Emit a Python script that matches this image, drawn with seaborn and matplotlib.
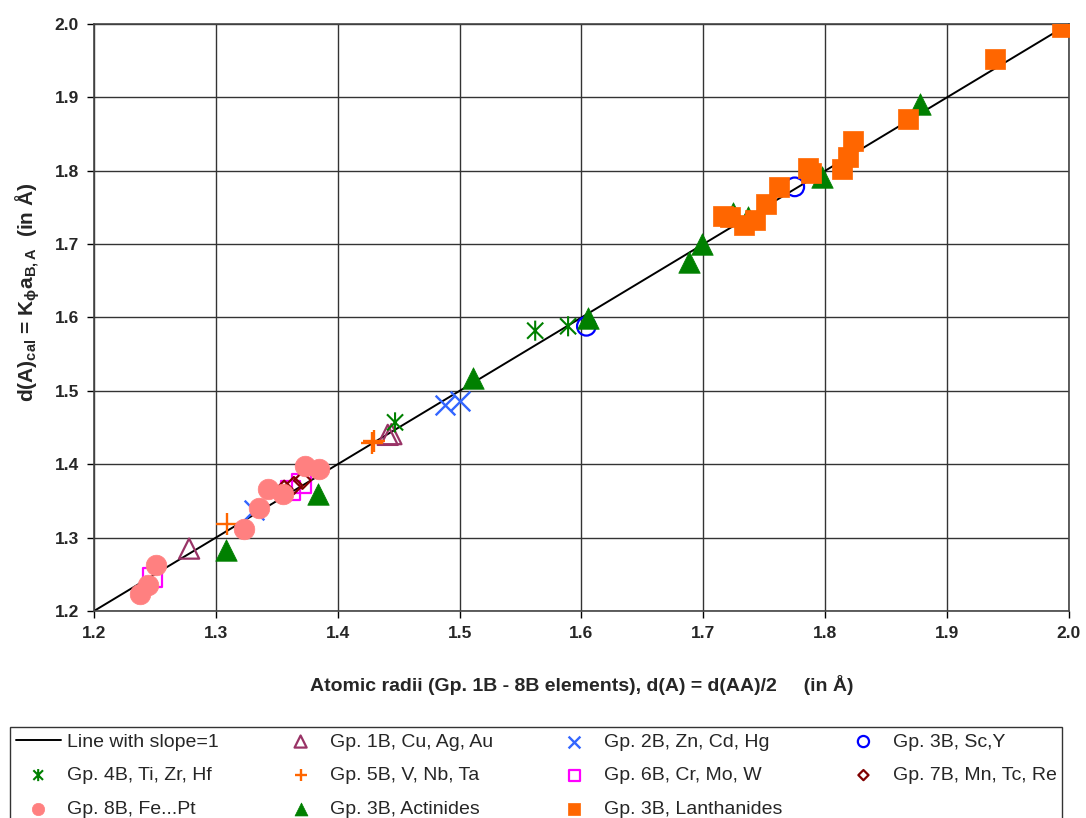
import matplotlib
matplotlib.use("Agg")
import matplotlib.pyplot as plt
import seaborn as sns
from matplotlib.path import Path

# data
line_x = [1.2, 2.0]
line_y = [1.2, 2.0]

gp1b_x = [1.278, 1.441, 1.444]
gp1b_y = [1.285, 1.440, 1.441]

gp2b_x = [1.331, 1.488, 1.500]
gp2b_y = [1.338, 1.481, 1.486]

gp3b_x = [1.604, 1.775]
gp3b_y = [1.588, 1.778]

gp4b_x = [1.447, 1.562, 1.589]
gp4b_y = [1.457, 1.582, 1.588]

gp5b_x = [1.309, 1.428, 1.430]
gp5b_y = [1.318, 1.429, 1.431]

gp6b_x = [1.248, 1.361, 1.370]
gp6b_y = [1.246, 1.364, 1.374]

gp7b_x = [1.356, 1.364, 1.371]
gp7b_y = [1.366, 1.371, 1.378]

gp8b_x = [1.238, 1.244, 1.251, 1.323, 1.335, 1.343, 1.355, 1.373, 1.385]
gp8b_y = [1.223, 1.235, 1.263, 1.312, 1.341, 1.366, 1.360, 1.398, 1.393]

act_x = [1.308, 1.384, 1.511, 1.605, 1.688, 1.699, 1.724, 1.737, 1.797, 1.878]
act_y = [1.283, 1.360, 1.518, 1.599, 1.676, 1.700, 1.742, 1.737, 1.792, 1.891]

lan_x = [1.716, 1.722, 1.733, 1.742, 1.751, 1.762, 1.786, 1.788, 1.814, 1.819, 1.823, 1.868, 1.939, 1.994]
lan_y = [1.738, 1.737, 1.726, 1.733, 1.755, 1.778, 1.804, 1.797, 1.802, 1.819, 1.840, 1.870, 1.952, 1.996]

ticks = [1.2, 1.3, 1.4, 1.5, 1.6, 1.7, 1.8, 1.9, 2.0]

sns.set_theme(style="white")
plt.rcParams["font.family"] = ["Liberation Sans", "DejaVu Sans"]
plt.rcParams["mathtext.fontset"] = "custom"
plt.rcParams["mathtext.rm"] = "Liberation Sans:bold"
plt.rcParams["mathtext.it"] = "Liberation Sans:bold"
plt.rcParams["mathtext.bf"] = "Liberation Sans:bold"

# Excel style asterisk: X plus a vertical bar
asterisk = Path(
    [(0, -1), (0, 1), (-0.8, -0.8), (0.8, 0.8), (-0.8, 0.8), (0.8, -0.8)],
    [Path.MOVETO, Path.LINETO, Path.MOVETO, Path.LINETO, Path.MOVETO, Path.LINETO],
)

fig = plt.figure(figsize=(10.86, 8.18), dpi=100)
ax = fig.add_axes([0.0866, 0.2531, 0.8977, 0.7176])

sns.lineplot(x=line_x, y=line_y, color="black", linewidth=1.4, ax=ax,
             label="Line with slope=1", zorder=2)

series = [
    (gp1b_x, gp1b_y, "^", "#993366", "open", 210, "Gp. 1B, Cu, Ag, Au"),
    (gp2b_x, gp2b_y, "x", "#3366FF", "line", 200, "Gp. 2B, Zn, Cd, Hg"),
    (gp3b_x, gp3b_y, "o", "#0000FF", "open", 180, "Gp. 3B, Sc,Y"),
    (gp4b_x, gp4b_y, asterisk, "#008000", "path", 210, "Gp. 4B, Ti, Zr, Hf"),
    (gp5b_x, gp5b_y, "+", "#FF6600", "line", 230, "Gp. 5B, V, Nb, Ta"),
    (gp6b_x, gp6b_y, "s", "#FF00FF", "open", 180, "Gp. 6B, Cr, Mo, W"),
    (gp7b_x, gp7b_y, "D", "#800000", "open", 75, "Gp. 7B, Mn, Tc, Re"),
    (gp8b_x, gp8b_y, "o", "#FF8080", "fill", 220, "Gp. 8B, Fe...Pt"),
    (act_x, act_y, "^", "#008000", "fill", 240, "Gp. 3B, Actinides"),
    (lan_x, lan_y, "s", "#FF6600", "fill", 210, "Gp. 3B, Lanthanides"),
]

for i, (xs, ys, mk, col, kind, size, lab) in enumerate(series):
    if kind == "fill":
        sns.scatterplot(x=xs, y=ys, marker=mk, s=size, color=col, edgecolor=col,
                        linewidth=0.5, ax=ax, label=lab, zorder=3 + i)
    elif kind == "open":
        sns.scatterplot(x=xs, y=ys, marker=mk, s=size, facecolor="none", edgecolor=col,
                        linewidth=1.6, ax=ax, label=lab, zorder=3 + i)
    elif kind == "path":
        sns.scatterplot(x=xs, y=ys, marker=mk, s=size, facecolor="none", edgecolor=col,
                        linewidth=1.5, ax=ax, label=lab, zorder=3 + i)
    else:
        sns.scatterplot(x=xs, y=ys, marker=mk, s=size, color=col,
                        linewidth=1.7, ax=ax, label=lab, zorder=3 + i)

if ax.get_legend() is not None:
    ax.get_legend().remove()

ax.set_xlim(1.2, 2.0)
ax.set_ylim(1.2, 2.0)
ax.set_xticks(ticks)
ax.set_yticks(ticks)
ax.set_xticklabels([f"{t:.1f}" for t in ticks], fontsize=12.5, fontweight="bold")
ax.set_yticklabels([f"{t:.1f}" for t in ticks], fontsize=12.5, fontweight="bold")
ax.tick_params(axis="both", direction="out", length=5, width=1, color="black",
               bottom=True, left=True, pad=6)
ax.grid(True, color="#333333", linewidth=1)
for sp in ax.spines.values():
    sp.set_color("#444444")
    sp.set_linewidth(1.2)

ax.set_xlabel("Atomic radii (Gp. 1B - 8B elements), d(A) = d(AA)/2     (in Å)",
              fontsize=14, fontweight="bold", labelpad=24)
ax.set_ylabel(r"d(A)$_{\rm cal}$ = K$_{\phi}$a$_{\rm B,A}$  (in Å)",
              fontsize=15, fontweight="bold")
ax.yaxis.set_label_coords(-0.053, 0.543)

# legend laid out row-wise like the original (matplotlib fills column-wise)
handles, labels = ax.get_legend_handles_labels()
order = [0, 4, 8, 1, 5, 9, 2, 6, 10, 3, 7]
leg = fig.legend([handles[k] for k in order], [labels[k] for k in order],
                 loc="upper left", bbox_to_anchor=(0.0092, 0.111, 0.969, 0.0),
                 mode="expand", ncol=4, fontsize=14, frameon=True, fancybox=False,
                 edgecolor="black", markerscale=0.6, handlelength=2.3,
                 handletextpad=0.35, labelspacing=0.82, borderaxespad=0, borderpad=0.3)
leg.get_frame().set_linewidth(1.0)

fig.savefig("out.png", dpi=100)
